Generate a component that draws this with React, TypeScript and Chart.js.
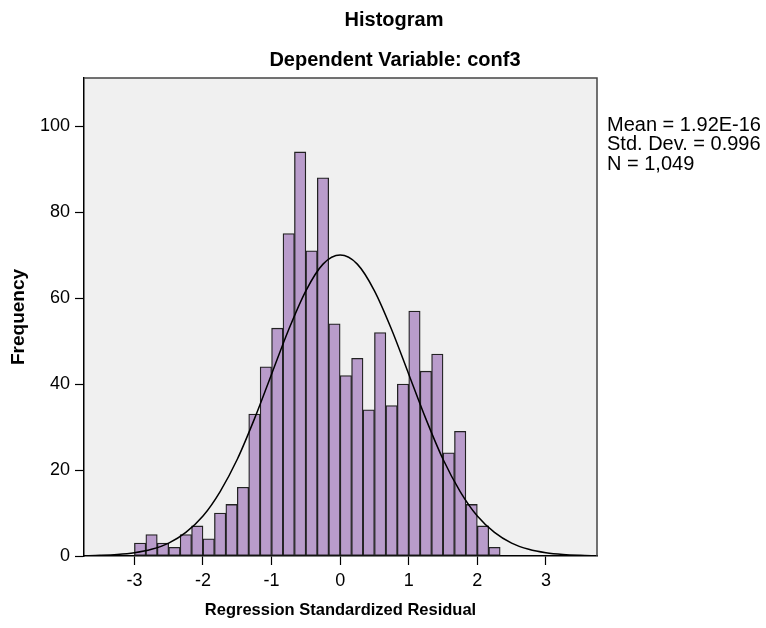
import React, { useEffect, useRef } from "react";
import { Chart, registerables } from "chart.js";

Chart.register(...registerables);

// Histogram bins: start at -3, width 1/6
const binStart = -3;
const binWidth = 1 / 6;
const counts = [3, 5, 3, 2, 5, 7, 4, 10, 12, 16, 33, 44, 53, 75, 94, 71, 88, 54, 42, 46, 34, 52, 35, 40, 57, 43, 47, 24, 29, 12, 7, 2];

// Normal curve
const curveX = [-3.75, -3.5, -3.25, -3, -2.75, -2.5, -2.25, -2, -1.75, -1.5, -1.25, -1, -0.75, -0.5, -0.25, 0, 0.25, 0.5, 0.75, 1, 1.25, 1.5, 1.75, 2, 2.25, 2.5, 2.75, 3, 3.25, 3.5, 3.75];
const curveY = [0.06, 0.15, 0.34, 0.75, 1.55, 3.0, 5.5, 9.3, 15.0, 22.5, 31.9, 42.3, 52.7, 61.7, 67.9, 70.0, 67.9, 61.7, 52.7, 42.3, 31.9, 22.5, 15.0, 9.3, 5.5, 3.0, 1.55, 0.75, 0.34, 0.15, 0.06];

const xTicks = [-3, -2, -1, 0, 1, 2, 3];
const yTicks = [0, 20, 40, 60, 80, 100];

const titleLines = ["Histogram", "Dependent Variable: conf3"];
const statsLines = ["Mean = 1.92E-16", "Std. Dev. = 0.996", "N = 1,049"];
const xTitle = "Regression Standardized Residual";
const yTitle = "Frequency";

const FONT = '"Liberation Sans", Arial, Helvetica, sans-serif';

const decorPlugin = {
  id: "decor",
  beforeDraw(chart: any) {
    const { ctx, chartArea } = chart;
    ctx.save();
    ctx.fillStyle = "#F0F0F0";
    ctx.fillRect(chartArea.left, chartArea.top, chartArea.right - chartArea.left, chartArea.bottom - chartArea.top);
    ctx.restore();
  },
  afterDraw(chart: any) {
    const { ctx, chartArea } = chart;
    ctx.save();
    ctx.strokeStyle = "#444444";
    ctx.lineWidth = 1.5;
    ctx.beginPath();
    ctx.moveTo(chartArea.left, chartArea.top);
    ctx.lineTo(chartArea.right, chartArea.top);
    ctx.lineTo(chartArea.right, chartArea.bottom);
    ctx.stroke();

    ctx.fillStyle = "#000";
    ctx.textAlign = "center";
    ctx.textBaseline = "middle";
    ctx.font = `bold 20px ${FONT}`;
    ctx.fillText(titleLines[0], 394, 20);
    ctx.fillText(titleLines[1], 395, 60);

    ctx.textAlign = "left";
    ctx.font = `20px ${FONT}`;
    statsLines.forEach((s, i) => ctx.fillText(s, 607, 125 + i * 19.7));
    ctx.restore();
  },
};

export default function App() {
  const ref = useRef<HTMLCanvasElement | null>(null);

  useEffect(() => {
    if (!ref.current) return;
    const barData = counts.map((c, i) => ({ x: binStart + (i + 0.5) * binWidth, y: c }));
    const lineData = curveX.map((x, i) => ({ x, y: curveY[i] }));
    const chart = new Chart(ref.current, {
      type: "bar",
      data: {
        datasets: [
          {
            type: "line",
            data: lineData,
            borderColor: "#000",
            borderWidth: 1.5,
            pointRadius: 0,
            cubicInterpolationMode: "monotone",
            fill: false,
            order: 0,
          } as any,
          {
            type: "bar",
            data: barData,
            backgroundColor: "#B99CCB",
            borderColor: "#222222",
            borderWidth: 1.3,
            borderSkipped: false,
            barPercentage: 1,
            categoryPercentage: 1,
            order: 1,
          } as any,
        ],
      },
      options: {
        animation: false,
        responsive: false,
        devicePixelRatio: 1,
        layout: { padding: { top: 78, right: 169, left: 0, bottom: 0 } },
        plugins: { legend: { display: false }, tooltip: { enabled: false } },
        scales: {
          x: {
            type: "linear",
            offset: false,
            min: -3.735,
            max: 3.745,
            afterFit: (s: any) => { s.height = 72; },
            afterBuildTicks: (s: any) => { s.ticks = xTicks.map((v) => ({ value: v })); },
            ticks: {
              color: "#000",
              font: { family: FONT, size: 18 },
              padding: 5,
              maxRotation: 0,
              autoSkip: false,
              callback: (v: any) => String(v),
            },
            grid: { display: true, offset: false, drawOnChartArea: false, drawTicks: true, tickLength: 9, tickColor: "#000", tickWidth: 1.2 },
            border: { display: true, color: "#000", width: 1.5 },
            title: { display: true, text: xTitle, color: "#000", font: { family: FONT, size: 16.5, weight: "bold" }, padding: { top: 0, bottom: 8 } },
          },
          y: {
            type: "linear",
            min: 0,
            max: 111.2,
            afterFit: (s: any) => { s.width = 84; },
            afterBuildTicks: (s: any) => { s.ticks = yTicks.map((v) => ({ value: v })); },
            ticks: {
              color: "#000",
              font: { family: FONT, size: 18 },
              padding: 5,
              autoSkip: false,
              callback: (v: any) => String(v),
            },
            grid: { display: true, drawOnChartArea: false, drawTicks: true, tickLength: 9, tickColor: "#000", tickWidth: 1.2 },
            border: { display: true, color: "#000", width: 1.5 },
            title: { display: true, text: yTitle, color: "#000", font: { family: FONT, size: 19, weight: "bold" }, padding: { top: 7, bottom: 0 } },
          },
        },
      } as any,
      plugins: [decorPlugin],
    });
    return () => chart.destroy();
  }, []);

  return (
    <div style={{ position: "fixed", left: 0, top: 0, width: 766, height: 628, background: "#fff" }}>
      <canvas ref={ref} width={766} height={628} style={{ display: "block", width: 766, height: 628 }} />
    </div>
  );
}
